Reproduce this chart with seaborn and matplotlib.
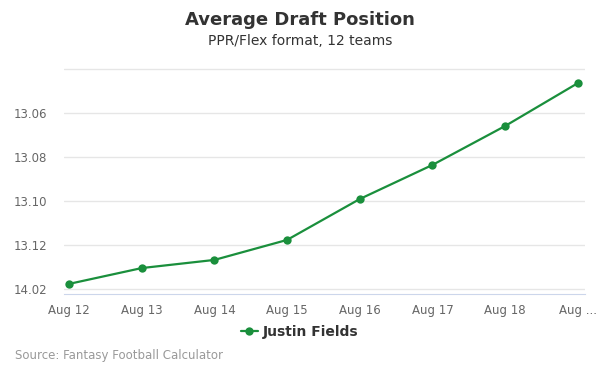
import pandas as pd
import matplotlib
matplotlib.use('Agg')
import matplotlib.pyplot as plt
import seaborn as sns
from matplotlib.ticker import FuncFormatter, FixedLocator

# overall pick number (12 teams): 13.06 -> 150, 14.02 -> 158
dates = ['Aug 12', 'Aug 13', 'Aug 14', 'Aug 15', 'Aug 16', 'Aug 17', 'Aug 18', 'Aug 19']
tick_labels = ['Aug 12', 'Aug 13', 'Aug 14', 'Aug 15', 'Aug 16', 'Aug 17', 'Aug 18', 'Aug ...']
adp = [157.77, 157.05, 156.68, 155.77, 153.91, 152.36, 150.59, 148.64]
y_ticks = [150, 152, 154, 156, 158]

df = pd.DataFrame({'x': range(len(dates)), 'adp': adp})

sns.set_style('white')
plt.rcParams['font.family'] = ['DejaVu Sans']

fig = plt.figure(figsize=(6, 3.75), dpi=100)
ax = fig.add_axes([64/600, 1-294/375, 521/600, 226/375])

green = '#1a8f3c'
sns.lineplot(data=df, x='x', y='adp', ax=ax, color=green, marker='o',
             markersize=6, markeredgewidth=0, linewidth=1.6, label='Justin Fields')

def pick_fmt(v, pos):
    v = int(round(v))
    return f"{(v - 1) // 12 + 1}.{(v - 1) % 12 + 1:02d}"

ax.set_ylim(158.23, 147.95)
ax.yaxis.set_major_locator(FixedLocator(y_ticks + [148]))
ax.yaxis.set_major_formatter(FuncFormatter(lambda v, p: '' if round(v) == 148 else pick_fmt(v, p)))
ax.set_xlim(-0.07, 7.1)
ax.set_xticks(range(len(dates)))
ax.set_xticklabels(tick_labels)

ax.grid(axis='y', color='#e6e6e6', linewidth=1)
for s in ['top', 'right', 'left']:
    ax.spines[s].set_visible(False)
ax.spines['bottom'].set_color('#ccd6eb')
ax.tick_params(axis='x', colors='#ccd6eb', length=5, width=1, labelcolor='#666666', labelsize=8.5, pad=2)
ax.tick_params(axis='y', length=0, labelcolor='#666666', labelsize=8.5, pad=12)
ax.set_xlabel('')
ax.set_ylabel('')

ax.get_legend().remove()
handles, labels = ax.get_legend_handles_labels()
leg = fig.legend(handles, labels, loc='center', bbox_to_anchor=(0.5, 1-332/375), frameon=False,
                 prop={'weight': 'bold', 'size': 10}, handlelength=1.2, handletextpad=0.4)
for t in leg.get_texts():
    t.set_color('#333333')

fig.text(0.5, 1-20/375, 'Average Draft Position', ha='center', va='center',
         fontsize=13, fontweight='bold', color='#333333')
fig.text(0.5, 1-41/375, 'PPR/Flex format, 12 teams', ha='center', va='center',
         fontsize=10, color='#333333')
fig.text(15/600, 1-356/375, 'Source: Fantasy Football Calculator', ha='left', va='center',
         fontsize=8.5, color='#999999')

fig.savefig('out.png', dpi=100)
